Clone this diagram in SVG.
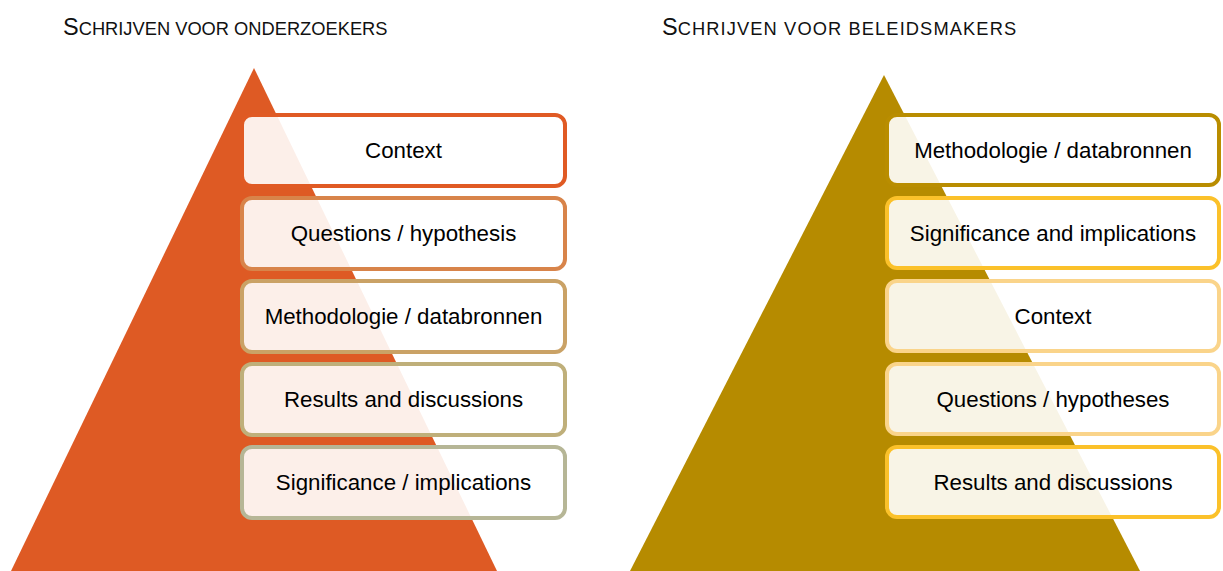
<svg xmlns="http://www.w3.org/2000/svg" width="1223" height="571" viewBox="0 0 1223 571">
<style>
.title{font-family:"Liberation Sans",Arial,sans-serif;fill:#111;}
.big{font-size:23.5px;}
.sm{font-size:18.3px;}
.wide{letter-spacing:1.1px;}
.lbl{font-family:"Liberation Sans",Arial,sans-serif;font-size:22.3px;fill:#000;text-anchor:middle;}
.box{fill:#fff;fill-opacity:0.9;stroke-width:4;}
</style>
<rect width="1223" height="571" fill="#fff"/>
<text class="title" x="63" y="35"><tspan class="big">S</tspan><tspan class="sm">CHRIJVEN VOOR ONDERZOEKERS</tspan></text>
<text class="title" x="662" y="35"><tspan class="big">S</tspan><tspan class="sm wide">CHRIJVEN VOOR BELEIDSMAKERS</tspan></text>
<g id="pyramid-left">
<polygon points="254,68 11,571 497,571" fill="#DE5A24"/>
</g>
<g id="pyramid-right">
<polygon points="884,75 630,571 1140,571" fill="#B68B00"/>
</g>
<g id="left-context"><rect class="box" x="242" y="115" width="323" height="71" rx="10" stroke="#E05A24"/><text class="lbl" x="403.5" y="158">Context</text></g>
<g id="left-questions"><rect class="box" x="242" y="198" width="323" height="71" rx="10" stroke="#D8844A"/><text class="lbl" x="403.5" y="241">Questions / hypothesis</text></g>
<g id="left-methodologie"><rect class="box" x="242" y="281" width="323" height="71" rx="10" stroke="#CAA266"/><text class="lbl" x="403.5" y="324">Methodologie / databronnen</text></g>
<g id="left-results"><rect class="box" x="242" y="364" width="323" height="71" rx="10" stroke="#BFAF7A"/><text class="lbl" x="403.5" y="407">Results and discussions</text></g>
<g id="left-significance"><rect class="box" x="242" y="447" width="323" height="71" rx="10" stroke="#B6B696"/><text class="lbl" x="403.5" y="490">Significance / implications</text></g>
<g id="right-methodologie"><rect class="box" x="887" y="115" width="332" height="70" rx="10" stroke="#B98D00"/><text class="lbl" x="1053" y="158">Methodologie / databronnen</text></g>
<g id="right-significance"><rect class="box" x="887" y="198" width="332" height="70" rx="10" stroke="#FBC12A"/><text class="lbl" x="1053" y="241">Significance and implications</text></g>
<g id="right-context"><rect class="box" x="887" y="281" width="332" height="70" rx="10" stroke="#FAD48A"/><text class="lbl" x="1053" y="324">Context</text></g>
<g id="right-questions"><rect class="box" x="887" y="364" width="332" height="70" rx="10" stroke="#FAD48A"/><text class="lbl" x="1053" y="407">Questions / hypotheses</text></g>
<g id="right-results"><rect class="box" x="887" y="447" width="332" height="70" rx="10" stroke="#FBC12A"/><text class="lbl" x="1053" y="490">Results and discussions</text></g>
<g id="connectors"></g>
</svg>
